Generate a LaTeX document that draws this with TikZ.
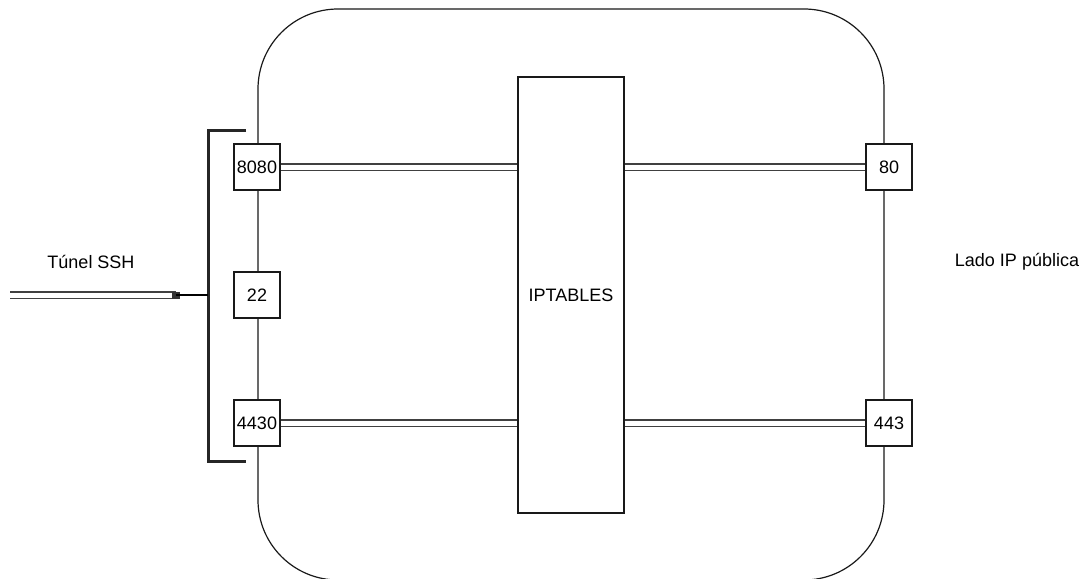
\documentclass[tikz,border=0pt]{standalone}
\usepackage{fontspec}
\setmainfont{Liberation Sans}
\begin{document}
\begin{tikzpicture}[x=1pt,y=-1pt,
  every node/.style={font=\fontsize{18}{22}\selectfont},
  port/.style={draw=black!90, line width=1.2pt, fill=white, minimum size=46pt, inner sep=0pt},
  link/.style={draw=black!75, line width=1.2pt, double=white, double distance=5pt},
  bracketline/.style={draw=black!85, line width=3pt},
  frame/.style={draw=black!90, line width=1.2pt}]
\useasboundingbox (0,0) rectangle (1086,578);
\clip (0,0) rectangle (1086,578);
% host frame
\draw[frame, rounded corners=80pt] (258,9) rectangle (884,580);
% iptables
\node[frame, fill=white, minimum width=106pt, minimum height=436pt, inner sep=0pt] (ipt) at (571,295) {IPTABLES};
% ports
\node[port] (p8080) at (257,167) {8080};
\node[port] (p22) at (257,295) {22};
\node[port] (p4430) at (257,423) {4430};
\node[port] (p80) at (889,167) {80};
\node[port] (p443) at (889,423) {443};
% links
\draw[link] (p8080.east) -- (p8080.east -| ipt.west);
\draw[link] (p4430.east) -- (p4430.east -| ipt.west);
\draw[link] (ipt.east |- p80.west) -- (p80.west);
\draw[link] (ipt.east |- p443.west) -- (p443.west);
% bracket
\coordinate (bt) at (246,130);
\coordinate (bb) at (246,461);
\coordinate (bm) at (208,295);
\draw[bracketline] (bt) -- (208,130) -- (208,461) -- (bb);
% tunnel
\coordinate (tun) at (10,295);
\coordinate (tunend) at (176,295);
\draw[link] (tun) -- (tunend);
\fill[black!80] (172,291.5) rectangle (180,298.5);
\draw[draw=black, line width=1.3pt] (tunend) -- (bm);
% labels
\node (tssh) at (91,262) {Túnel SSH};
\node (lip) at (1017,262) {Lado IP pública};
\end{tikzpicture}
\end{document}
